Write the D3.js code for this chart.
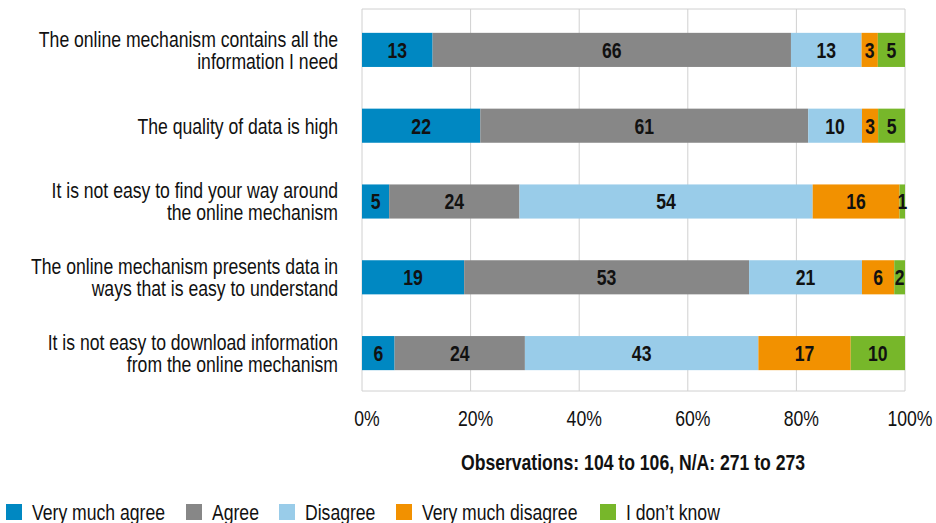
<!DOCTYPE html>
<html>
<head>
<meta charset="utf-8">
<script src="https://cdn.jsdelivr.net/npm/d3@7"></script>
<style>
  body { margin: 0; background: #fff; }
  svg text { font-family: "Liberation Sans", Arial, sans-serif; }
</style>
</head>
<body>
<svg width="936" height="523"></svg>
<script>
const statements = [
  ["The online mechanism contains all the", "information I need"],
  ["The quality of data is high"],
  ["It is not easy to find your way around", "the online mechanism"],
  ["The online mechanism presents data in", "ways that is easy to understand"],
  ["It is not easy to download information", "from the online mechanism"]
];
const answers = ["Very much agree", "Agree", "Disagree", "Very much disagree", "I don\u2019t know"];
const veryMuchAgree    = [13, 22, 5, 19, 6];
const agree            = [66, 61, 24, 53, 24];
const disagree         = [13, 10, 54, 21, 43];
const veryMuchDisagree = [3, 3, 16, 6, 17];
const dontKnow         = [5, 5, 1, 2, 10];
const xTicks = [0, 0.2, 0.4, 0.6, 0.8, 1];
const colors = ["#0088c2", "#878787", "#99cce9", "#f29100", "#77b72a"];

const series = [veryMuchAgree, agree, disagree, veryMuchDisagree, dontKnow];

// narrow look: Liberation Sans squeezed horizontally (no Arial Narrow here)
const squeeze = 0.8;

const margin = { top: 9, right: 31, bottom: 132, left: 362 },
      width = 936 - margin.left - margin.right,
      height = 523 - margin.top - margin.bottom;

const svg = d3.select("svg");
const g = svg.append("g").attr("transform", `translate(${margin.left},${margin.top})`);

const x = d3.scaleLinear().domain([0, 1]).range([0, width]);
const y = d3.scaleBand().domain(d3.range(statements.length)).range([3, height]).paddingInner(0.55).paddingOuter(0.275);
const color = d3.scaleOrdinal().domain(answers).range(colors);

function narrowText(parent, tx, ty, anchor, size, bold) {
  return parent.append("g")
    .attr("transform", `translate(${tx},${ty}) scale(${squeeze},1)`)
    .append("text")
    .attr("text-anchor", anchor)
    .style("font-size", size + "px")
    .style("font-weight", bold ? "bold" : "normal")
    .attr("fill", "#111");
}

// gridlines + frame
g.append("g")
  .selectAll("line")
  .data(xTicks)
  .join("line")
  .attr("x1", d => x(d)).attr("x2", d => x(d))
  .attr("y1", 0).attr("y2", height)
  .attr("stroke", "#d0d0d0")
  .attr("stroke-width", 1);
g.append("g")
  .selectAll("line")
  .data([0, height])
  .join("line")
  .attr("x1", 0).attr("x2", width)
  .attr("y1", d => d).attr("y2", d => d)
  .attr("stroke", "#d0d0d0");

// stacked rows (shares of each row's total)
const rows = statements.map((s, i) => {
  const vals = series.map(arr => arr[i]);
  const total = d3.sum(vals);
  let acc = 0;
  return vals.map((v, k) => {
    const seg = { row: i, answer: answers[k], value: v, x0: acc / total, x1: (acc + v) / total };
    acc += v;
    return seg;
  });
});

rows.forEach((segs, i) => {
  const rg = g.append("g").attr("transform", `translate(0,${y(i)})`);
  rg.selectAll("rect")
    .data(segs)
    .join("rect")
    .attr("x", d => x(d.x0))
    .attr("width", d => x(d.x1) - x(d.x0))
    .attr("height", y.bandwidth())
    .attr("fill", d => color(d.answer));
  segs.forEach(d => {
    narrowText(rg, (x(d.x0) + x(d.x1)) / 2, y.bandwidth() / 2, "middle", 22, true)
      .attr("dy", "0.36em")
      .text(d.value);
  });
});

// category labels
statements.forEach((lines, i) => {
  const cy = margin.top + y(i) + y.bandwidth() / 2;
  const t = narrowText(svg, 338, cy, "end", 22, false);
  lines.forEach((line, j) => {
    t.append("tspan")
      .attr("x", 0)
      .attr("y", (j - (lines.length - 1) / 2) * 22)
      .attr("dy", "0.36em")
      .text(line);
  });
});

// x tick labels (sit a little right of their gridline, as in the original)
xTicks.forEach(d => {
  narrowText(g, x(d) + 5, height + 27, "middle", 22, false)
    .attr("dy", "0.36em")
    .text(d3.format(".0%")(d));
});

narrowText(svg, 633, 462, "middle", 22, true)
  .attr("dy", "0.36em")
  .text("Observations: 104 to 106, N/A: 271 to 273");

// legend
const legendX = [6, 186, 279, 396, 600];
answers.forEach((a, i) => {
  svg.append("rect").attr("x", legendX[i]).attr("y", 504).attr("width", 16).attr("height", 16).attr("fill", color(a));
  narrowText(svg, legendX[i] + 26, 512, "start", 22, false)
    .attr("dy", "0.36em")
    .text(a);
});
</script>
</body>
</html>
